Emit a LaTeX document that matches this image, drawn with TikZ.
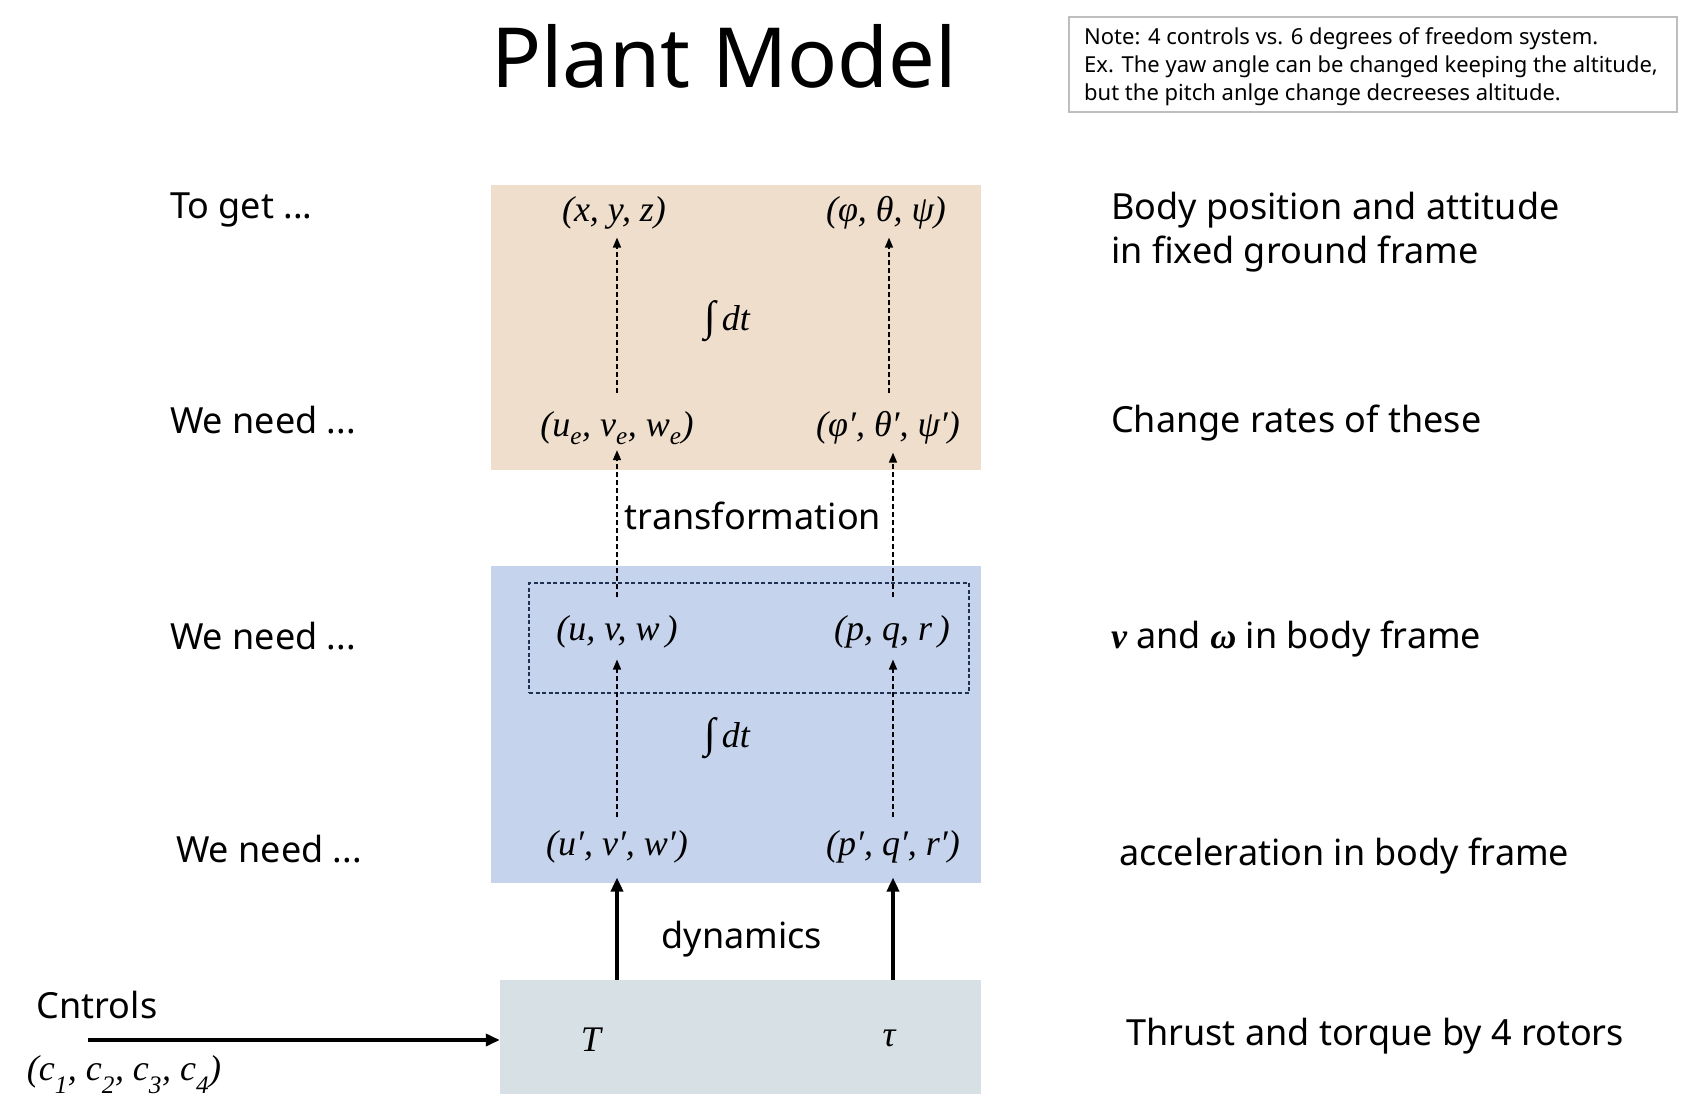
\documentclass[tikz,border=0pt]{standalone}
\usepackage{fontspec}
\setmainfont{Noto Sans}
\newfontfamily\ser{Liberation Serif}
\usetikzlibrary{arrows.meta}
\definecolor{beigebox}{RGB}{238,222,203}
\definecolor{bluebox}{RGB}{197,211,237}
\definecolor{graybox}{RGB}{214,224,229}
\definecolor{navyline}{RGB}{32,48,80}
\definecolor{notegray}{RGB}{190,190,190}
\newcommand{\lowsub}[1]{\raisebox{-0.3ex}{\textsubscript{#1}}}
\begin{document}
\begin{tikzpicture}[x=1pt,y=-1pt,
  lab/.style={anchor=west, inner sep=0pt, font=\fontsize{36}{44}\selectfont},
  mth/.style={inner sep=0pt, font=\fontsize{36}{40}\selectfont\ser\itshape},
  area/.style={draw=none, inner sep=0pt},
  dasharrow/.style={dash pattern=on 5pt off 3pt, line width=1.5pt, -{Triangle[length=10pt,width=8pt]}},
  thickarrow/.style={line width=4pt, -{Triangle[length=14pt,width=12pt]}}]
\useasboundingbox (0,0) rectangle (1690,1108);

% boxes
\node[area, fill=beigebox, minimum width=490pt, minimum height=285pt] (bbox) at (736,327.5) {};
\node[area, fill=bluebox, minimum width=490pt, minimum height=317pt] (blbox) at (736,724.5) {};
\node[area, fill=graybox, minimum width=481pt, minimum height=114pt] (gbox) at (740.5,1037) {};
\node[draw=navyline, line width=1.2pt, dash pattern=on 4pt off 2.5pt, minimum width=440pt, minimum height=110pt, inner sep=0pt] (dbox) at (749,638) {};

% title and note
\node[inner sep=0pt, font=\fontsize{83}{96}\selectfont] (title) at (724,56) {Plant Model};
\node[draw=notegray, line width=1.2pt, minimum width=608pt, minimum height=95pt, inner sep=0pt] (note) at (1373,64.5) {};
\node[anchor=west, inner sep=0pt, align=left, font=\fontsize{22}{28}\selectfont] (notetext) at (1084,67)
  {Note: 4 controls vs. 6 degrees of freedom system.\\
   Ex. The yaw angle can be changed keeping the altitude,\\
   but the pitch anlge change decreeses altitude.};

% math labels
\node[mth] (xyz) at (614,213) {(x, y, z)};
\node[mth] (ang) at (886,213) {(φ, θ, ψ)};
\node[mth] (int1) at (727,321) {{\fontsize{42}{44}\selectfont ∫}\,dt};
\node[mth] (ue) at (617,428) {(u\lowsub{e}, v\lowsub{e}, w\lowsub{e})};
\node[mth] (angp) at (888,428) {(φ′, θ′, ψ′)};
\node[mth] (uvw) at (617,632) {(u, v, w\,)};
\node[mth] (pqr) at (892,632) {(p, q, r\,)};
\node[mth] (int2) at (727,738) {{\fontsize{42}{44}\selectfont ∫}\,dt};
\node[mth] (uvwp) at (617,847) {(u′, v′, w′)};
\node[mth] (pqrp) at (893,847) {(p′, q′, r′)};
\node[mth] (T) at (591,1040) {T};
\node[mth] (tau) at (889,1038) {τ};
\node[mth] (cc) at (124,1075) {(c\lowsub{1}, c\lowsub{2}, c\lowsub{3}, c\lowsub{4})};

% process labels
\node[inner sep=0pt, font=\fontsize{36}{44}\selectfont] (trans) at (753,516) {transformation};
\node[inner sep=0pt, font=\fontsize{36}{44}\selectfont] (dyn) at (742,939) {dynamics};
\node[inner sep=0pt, font=\fontsize{36}{44}\selectfont] (ctrl) at (97,1005) {Cntrols};

% left labels
\node[lab] (l1) at (170,210) {To get ...};
\node[lab] (l2) at (170,420) {We need ...};
\node[lab] (l3) at (170,636) {We need ...};
\node[lab] (l4) at (176,849) {We need ...};

% right labels
\node[lab, align=left] (r1) at (1111,232) {Body position and attitude\\in fixed ground frame};
\node[lab] (r2) at (1111,423) {Change rates of these};
\node[lab] (r3) at (1111,639) {{\ser\bfseries\itshape v} and {\ser\bfseries\itshape ω} in body frame};
\node[lab] (r4) at (1119,856) {acceleration in body frame};
\node[lab] (r5) at (1126,1036) {Thrust and torque by 4 rotors};

% connectors
\draw[dasharrow, shorten <=18pt, shorten >=8pt] (ue.north -| 617,0) -- (xyz.south -| 617,0);
\draw[dasharrow, shorten <=18pt, shorten >=8pt] (angp.north -| 889,0) -- (ang.south -| 889,0);
\draw[dasharrow, shorten <=18pt, shorten >=5pt] (uvw.north) -- (ue.south);
\draw[dasharrow, shorten <=18pt, shorten >=8pt] (pqr.north -| 893,0) -- (angp.south -| 893,0);
\draw[dasharrow, shorten <=13pt, shorten >=11pt] (uvwp.north) -- (uvw.south);
\draw[dasharrow, shorten <=13pt, shorten >=11pt] (pqrp.north) -- (pqr.south -| pqrp.north);
\draw[thickarrow, shorten >=14pt] (gbox.north -| uvwp.south) -- (uvwp.south);
\draw[thickarrow, shorten >=14pt] (gbox.north -| pqrp.south) -- (pqrp.south);
\coordinate (cstart) at (88,1040);
\draw[thickarrow, line width=3.5pt] (cstart) -- (gbox.west |- cstart);
\end{tikzpicture}
\end{document}
